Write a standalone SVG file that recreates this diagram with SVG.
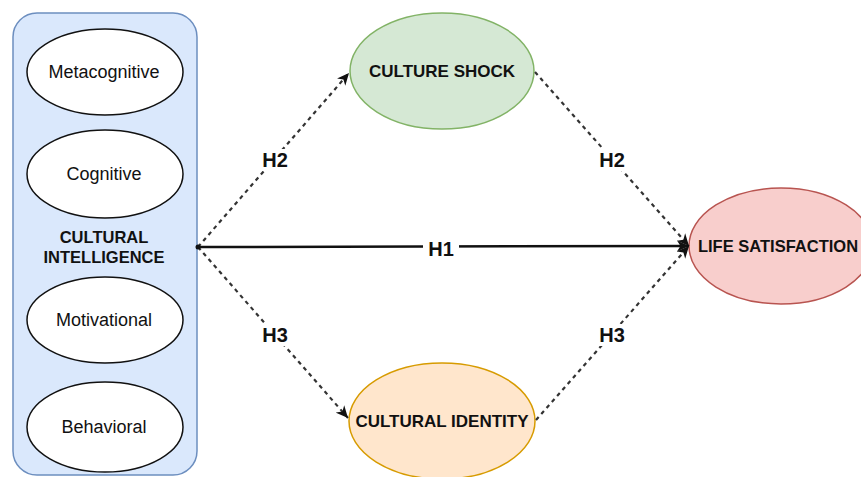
<svg xmlns="http://www.w3.org/2000/svg" width="861" height="477" viewBox="0 0 861 477">
<style>
.t{font-family:"Liberation Sans",Arial,sans-serif;fill:#111;text-anchor:middle}
.b{font-weight:bold}
.sub{fill:#fff;stroke:#111;stroke-width:1.5}
.dash{fill:none;stroke:#333;stroke-width:2.2;stroke-dasharray:4 4}
.solid{fill:none;stroke:#111;stroke-width:2.5}
.lbl{fill:#fff}
</style>
<defs>
<marker id="ah" markerUnits="userSpaceOnUse" markerWidth="14" markerHeight="12" refX="12" refY="6" orient="auto">
<path d="M0,0.5 L12,6 L0,11.5 L3.5,6 Z" fill="#111"/>
</marker>
</defs>
<rect width="861" height="477" fill="#fff"/>
<g id="cultural-intelligence">
<rect x="13" y="13" width="184" height="462" rx="24" ry="24" fill="#dae8fc" stroke="#6c8ebf" stroke-width="1.5"/>
<text class="t b" x="104" y="243" font-size="16.5">CULTURAL</text>
<text class="t b" x="104" y="263" font-size="16.5">INTELLIGENCE</text>
</g>
<g id="metacognitive">
<ellipse class="sub" cx="105" cy="72" rx="78" ry="43"/>
<text class="t" x="104" y="78" font-size="18">Metacognitive</text>
</g>
<g id="cognitive">
<ellipse class="sub" cx="105" cy="174" rx="78" ry="44"/>
<text class="t" x="104" y="180" font-size="18">Cognitive</text>
</g>
<g id="motivational">
<ellipse class="sub" cx="105" cy="320" rx="78" ry="43"/>
<text class="t" x="104" y="326" font-size="18">Motivational</text>
</g>
<g id="behavioral">
<ellipse class="sub" cx="105" cy="427" rx="78" ry="45"/>
<text class="t" x="104" y="433" font-size="18">Behavioral</text>
</g>
<g id="culture-shock">
<ellipse cx="442" cy="71" rx="92" ry="58" fill="#d5e8d4" stroke="#82b366" stroke-width="1.5"/>
<text class="t b" x="442" y="77" font-size="17">CULTURE SHOCK</text>
</g>
<g id="cultural-identity">
<ellipse cx="442" cy="421" rx="93" ry="58" fill="#ffe6cc" stroke="#d79b00" stroke-width="1.5"/>
<text class="t b" x="442" y="427" font-size="17">CULTURAL IDENTITY</text>
</g>
<g id="life-satisfaction">
<ellipse cx="781" cy="246" rx="92" ry="58" fill="#f8cecc" stroke="#b85450" stroke-width="1.5"/>
<text class="t b" x="778" y="252" font-size="16.5">LIFE SATISFACTION</text>
</g>
<g id="connectors">
<path class="solid" d="M198,247 L689,246" marker-end="url(#ah)"/>
<path class="dash" d="M198,247 L349,73" marker-end="url(#ah)"/>
<path class="dash" d="M198,247 L348,418" marker-end="url(#ah)"/>
<path class="dash" d="M535,72 L689,246" marker-end="url(#ah)"/>
<path class="dash" d="M536,420 L689,246" marker-end="url(#ah)"/>
<circle cx="198" cy="247" r="2.5" fill="#111"/>
<rect class="lbl" x="423" y="237" width="36" height="22"/>
<text class="t b" x="441" y="256" font-size="20">H1</text>
<rect class="lbl" x="258" y="149" width="34" height="22"/>
<text class="t b" x="275" y="167" font-size="20">H2</text>
<rect class="lbl" x="258" y="324" width="34" height="22"/>
<text class="t b" x="275" y="342" font-size="20">H3</text>
<rect class="lbl" x="595" y="149" width="34" height="22"/>
<text class="t b" x="612" y="167" font-size="20">H2</text>
<rect class="lbl" x="595" y="324" width="34" height="22"/>
<text class="t b" x="612" y="342" font-size="20">H3</text>
</g>
</svg>
